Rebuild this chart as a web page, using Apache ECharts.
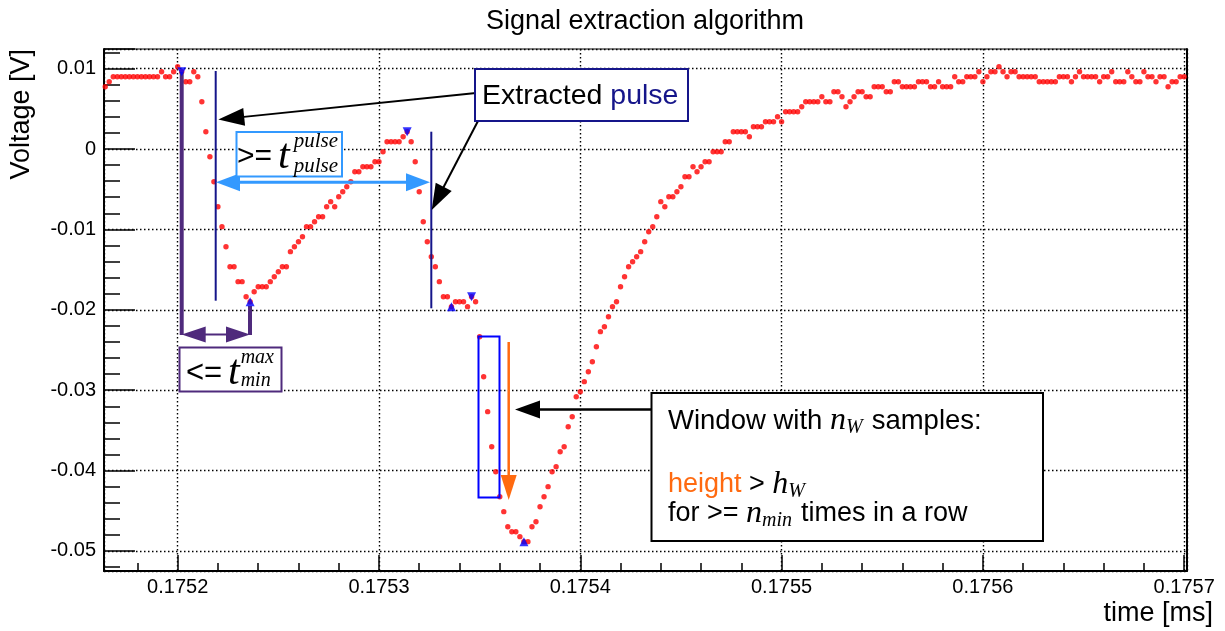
<!DOCTYPE html>
<html>
<head>
<meta charset="utf-8">
<title>Signal extraction algorithm</title>
<script src="https://cdn.jsdelivr.net/npm/echarts@6/dist/echarts.min.js"></script>
<style>
  html, body { margin: 0; padding: 0; background: #ffffff; }
  #main { width: 1225px; height: 631px; }
</style>
</head>
<body>
<div id="main"></div>
<script>
// Digitizer trace, one sample every 2 ns (time axis in ms)
const sampleStart = 0.175164;
const samplePeriod = 0.000002;
const voltage = [
  0.00775, 0.00837, 0.00899, 0.00899, 0.00899, 0.00899, 0.00899, 0.00899, 0.00899, 0.00899,
  0.00899, 0.00899, 0.00899, 0.00899, 0.00961, 0.00899, 0.00899, 0.00961, 0.01024, 0.00961,
  0.00837, 0.00837, 0.00961, 0.00899, 0.00588, 0.00215, -0.00096, -0.00407, -0.00718, -0.00966,
  -0.01215, -0.01464, -0.01464, -0.01650, -0.01650, -0.01837, -0.01899, -0.01775, -0.01713, -0.01713,
  -0.01713, -0.01650, -0.01588, -0.01526, -0.01464, -0.01464, -0.01277, -0.01215, -0.01153, -0.01091,
  -0.00966, -0.00966, -0.00904, -0.00842, -0.00842, -0.00718, -0.00655, -0.00718, -0.00593, -0.00531,
  -0.00469, -0.00407, -0.00282, -0.00282, -0.00220, -0.00220, -0.00220, -0.00158, -0.00158, -0.00034,
  0.00091, 0.00091, 0.00091, 0.00091, 0.00153, 0.00215, 0.00091, -0.00158, -0.00531, -0.00904,
  -0.01153, -0.01340, -0.01464, -0.01650, -0.01837, -0.01837, -0.01961, -0.01899, -0.01899, -0.01899,
  -0.01961, -0.01837, -0.01899, -0.02335, -0.02832, -0.03267, -0.03703, -0.04014, -0.04325, -0.04511,
  -0.04698, -0.04760, -0.04760, -0.04822, -0.04884, -0.04884, -0.04698, -0.04636, -0.04449, -0.04325,
  -0.04200, -0.04014, -0.03951, -0.03765, -0.03703, -0.03454, -0.03330, -0.03081, -0.03019, -0.02894,
  -0.02770, -0.02646, -0.02459, -0.02272, -0.02210, -0.02086, -0.01961, -0.01899, -0.01713, -0.01588,
  -0.01464, -0.01402, -0.01340, -0.01277, -0.01153, -0.01029, -0.00966, -0.00842, -0.00655, -0.00718,
  -0.00593, -0.00593, -0.00531, -0.00469, -0.00345, -0.00345, -0.00220, -0.00282, -0.00220, -0.00158,
  -0.00158, -0.00034, -0.00034, -0.00034, 0.00091, 0.00091, 0.00215, 0.00215, 0.00215, 0.00215,
  0.00153, 0.00277, 0.00277, 0.00277, 0.00340, 0.00340, 0.00340, 0.00402, 0.00340, 0.00464,
  0.00464, 0.00464, 0.00464, 0.00526, 0.00588, 0.00588, 0.00588, 0.00588, 0.00650, 0.00588,
  0.00588, 0.00713, 0.00713, 0.00650, 0.00526, 0.00588, 0.00650, 0.00713, 0.00713, 0.00650,
  0.00650, 0.00775, 0.00775, 0.00775, 0.00713, 0.00713, 0.00837, 0.00837, 0.00775, 0.00775,
  0.00775, 0.00775, 0.00837, 0.00837, 0.00837, 0.00775, 0.00775, 0.00837, 0.00775, 0.00775,
  0.00775, 0.00899, 0.00837, 0.00837, 0.00899, 0.00899, 0.00899, 0.00961, 0.00837, 0.00899,
  0.00961, 0.00961, 0.01024, 0.00961, 0.00899, 0.00961, 0.00961, 0.00899, 0.00899, 0.00899,
  0.00899, 0.00899, 0.00837, 0.00837, 0.00837, 0.00837, 0.00837, 0.00899, 0.00899, 0.00899,
  0.00837, 0.00899, 0.00961, 0.00899, 0.00899, 0.00899, 0.00899, 0.00837, 0.00899, 0.00899,
  0.00961, 0.00837, 0.00837, 0.00837, 0.00961, 0.00899, 0.00837, 0.00837, 0.00961, 0.00899,
  0.00899, 0.00837, 0.00899, 0.00899, 0.00775, 0.00837, 0.00837, 0.00899, 0.00899
];
// Sample indices flagged by the extraction (local maxima / minima)
const maxMarkerIdx = [19, 75, 91];
const minMarkerIdx = [36, 86, 104];
// Visible axis window
const timeRange = [0.1751634, 0.1757014];
const voltRange = [-0.05249, 0.01244];

const SANS = '"Liberation Sans", Arial, Helvetica, sans-serif';
const SERIF = '"Liberation Serif", "Times New Roman", Times, serif';

const points = voltage.map((v, i) => [sampleStart + i * samplePeriod, v]);
const maxPoints = maxMarkerIdx.map(i => points[i]);
const minPoints = minMarkerIdx.map(i => points[i]);

// ---------- annotation helpers (pixel space) ----------
const measureCtx = document.createElement('canvas').getContext('2d');
function fontStr(p) {
  return (p.italic ? 'italic ' : '') + p.size + 'px ' + (p.serif ? SERIF : SANS);
}
function textRun(x, yMid, pieces, z) {
  const els = [];
  let cx = x;
  for (const p of pieces) {
    const f = fontStr(p);
    const px = p.x !== undefined ? p.x : cx;
    els.push({
      type: 'text', z: z, silent: true,
      style: {
        x: px, y: yMid + (p.dy || 0), text: p.text, font: f, fill: p.color || '#000',
        align: 'left', verticalAlign: 'middle', textAlign: 'left', textVerticalAlign: 'middle'
      }
    });
    measureCtx.font = f;
    const w = measureCtx.measureText(p.text).width;
    if (!p.stack) cx = px + w + (p.gap || 0);
  }
  return els;
}
function seg(x1, y1, x2, y2, color, lw, z) {
  return { type: 'line', z: z, silent: true, shape: { x1, y1, x2, y2 }, style: { stroke: color, lineWidth: lw } };
}
function box(x1, y1, x2, y2, color, lw, z, fill) {
  return {
    type: 'rect', z: z, silent: true,
    shape: { x: x1, y: y1, width: x2 - x1, height: y2 - y1 },
    style: { stroke: color, lineWidth: lw, fill: fill || 'none' }
  };
}
function arrow(x1, y1, x2, y2, color, lw, len, half, both, z) {
  const dx = x2 - x1, dy = y2 - y1, L = Math.hypot(dx, dy);
  const ux = dx / L, uy = dy / L, nx = -uy, ny = ux;
  const head = (tx, ty, sx, sy) => ({
    type: 'polygon', z: z, silent: true,
    shape: { points: [[tx, ty],
      [tx - sx * len + nx * half, ty - sy * len + ny * half],
      [tx - sx * len - nx * half, ty - sy * len - ny * half]] },
    style: { fill: color }
  });
  const els = [seg(both ? x1 + ux * len * 0.8 : x1, both ? y1 + uy * len * 0.8 : y1,
                   x2 - ux * len * 0.8, y2 - uy * len * 0.8, color, lw, z)];
  els.push(head(x2, y2, ux, uy));
  if (both) els.push(head(x1, y1, -ux, -uy));
  return els;
}

const PURPLE = '#4f2a7c';
const NAVY = '#15158a';
const SKY = '#3399ff';
const ORANGE = '#ff6a10';

const graphics = [].concat(
  // minimum-search window (purple)
  seg(181.7, 72, 181.7, 335, PURPLE, 4, 3),
  seg(250, 306, 250, 335, PURPLE, 4, 3),
  arrow(181.7, 334.5, 250, 334.5, PURPLE, 2, 24, 8, true, 3),
  box(179.5, 347.5, 281.5, 391.5, PURPLE, 2, 4, '#fff'),
  textRun(186, 373, [
    { text: '<=', size: 31 },
    { text: 't', size: 42, italic: true, serif: true, x: 228, gap: 1 },
    { text: 'max', size: 20, italic: true, serif: true, stack: true, dy: -15 },
    { text: 'min', size: 20, italic: true, serif: true, dy: 8 }
  ], 5),
  // pulse borders (navy) and minimum pulse length (sky blue)
  seg(215.7, 71, 215.7, 300.7, NAVY, 2, 3),
  seg(431.3, 131.7, 431.3, 308.3, NAVY, 2, 3),
  arrow(216, 182.3, 430, 182.3, SKY, 3, 24, 9, true, 3),
  box(236.5, 132, 342, 176.5, SKY, 2, 4, '#fff'),
  textRun(237, 157, [
    { text: '>=', size: 30 },
    { text: 't', size: 42, italic: true, serif: true, x: 278, gap: 4 },
    { text: 'pulse', size: 21, italic: true, serif: true, stack: true, dy: -16 },
    { text: 'pulse', size: 21, italic: true, serif: true, dy: 9 }
  ], 5),
  // "Extracted pulse" label with its two pointers
  arrow(476, 93, 218.3, 119.5, '#000', 2, 26, 9, false, 3),
  arrow(478, 121, 431.7, 210, '#000', 2, 26, 9, false, 3),
  box(475, 69, 688, 121, NAVY, 2, 4, '#fff'),
  textRun(482, 96, [
    { text: 'Extracted ', size: 28.5 },
    { text: 'pulse', size: 28.5, color: NAVY }
  ], 5),
  // sliding window (blue) and required height (orange)
  box(478.5, 336.5, 499.5, 497.5, '#0000ff', 2, 3),
  arrow(508.7, 342, 508.7, 500, ORANGE, 2.5, 25, 8, false, 3),
  arrow(652, 409.5, 515, 409.5, '#000', 2.5, 25, 9, false, 3),
  box(651.5, 393, 1043, 541, '#000', 2, 4, '#fff'),
  textRun(668, 421, [
    { text: 'Window with ', size: 27.5 },
    { text: 'n', size: 32, italic: true, serif: true },
    { text: 'W', size: 20, italic: true, serif: true, dy: 7, gap: 9 },
    { text: 'samples:', size: 27.5 }
  ], 5),
  textRun(668, 485, [
    { text: 'height', size: 27, color: ORANGE },
    { text: ' > ', size: 27 },
    { text: 'h', size: 32, italic: true, serif: true },
    { text: 'W', size: 20, italic: true, serif: true, dy: 7 }
  ], 5),
  textRun(668, 514, [
    { text: 'for >= ', size: 27 },
    { text: 'n', size: 32, italic: true, serif: true },
    { text: 'min', size: 20, italic: true, serif: true, dy: 7, gap: 9 },
    { text: 'times in a row', size: 27 }
  ], 5),
  // axis titles
  [{
    type: 'text', x: 22, y: 49, rotation: Math.PI / 2, silent: true, z: 5,
    style: { text: 'Voltage [V]', font: '27px ' + SANS, fill: '#000', align: 'right', verticalAlign: 'middle',
             textAlign: 'right', textVerticalAlign: 'middle' }
  }, {
    type: 'text', x: 1213, y: 614, silent: true, z: 5,
    style: { text: 'time [ms]', font: '27px ' + SANS, fill: '#000', align: 'right', verticalAlign: 'middle',
             textAlign: 'right', textVerticalAlign: 'middle' }
  }]
);

function timeLabel(v) {
  const r = Math.round(v / 0.0001) * 0.0001;
  return Math.abs(v - r) < 1e-9 ? r.toFixed(4) : '';
}
function voltLabel(v) {
  const r = Math.round(v * 100) / 100;
  if (Math.abs(v - r) > 1e-7) return '';
  return r === 0 ? '0' : String(r);
}

const dotted = { color: '#000', width: 1.4, type: [1.5, 2.5] };

const option = {
  animation: false,
  backgroundColor: '#ffffff',
  title: {
    text: 'Signal extraction algorithm',
    left: 640, top: 3, textAlign: 'center',
    textStyle: { fontFamily: SANS, fontSize: 27, fontWeight: 'normal', color: '#000' }
  },
  grid: { left: 104, right: 38, top: 49, bottom: 60, show: true, borderColor: '#000', borderWidth: 1, backgroundColor: '#fff' },
  xAxis: {
    type: 'value', min: timeRange[0], max: timeRange[1], splitNumber: 5,
    axisLine: { show: true, onZero: false, lineStyle: { color: '#000', width: 2 } },
    axisTick: { show: true, inside: true, length: 16, lineStyle: { color: '#000', width: 1.5 } },
    minorTick: { show: true, splitNumber: 5, length: 8, lineStyle: { color: '#000', width: 1.5 } },
    axisLabel: { formatter: timeLabel, margin: 6, fontFamily: SANS, fontSize: 20, color: '#000', showMinLabel: true, showMaxLabel: true, hideOverlap: false },
    splitLine: { show: true, lineStyle: dotted }
  },
  yAxis: [{
    type: 'value', min: voltRange[0], max: voltRange[1], splitNumber: 6,
    axisLine: { show: true, onZero: false, lineStyle: { color: '#000', width: 2 } },
    axisTick: { show: true, inside: true, length: 31, lineStyle: { color: '#000', width: 1.5 } },
    minorTick: { show: true, splitNumber: 5, length: 16, lineStyle: { color: '#000', width: 1.5 } },
    axisLabel: { formatter: voltLabel, margin: 8, fontFamily: SANS, fontSize: 20, color: '#000', showMinLabel: true, showMaxLabel: true, hideOverlap: false },
    splitLine: { show: true, lineStyle: dotted }
  }, {
    type: 'value', position: 'right', min: voltRange[0], max: voltRange[1],
    axisLine: { show: true, onZero: false, lineStyle: { color: '#000', width: 2 } },
    axisTick: { show: false }, axisLabel: { show: false }, splitLine: { show: false }
  }],
  series: [{
    name: 'samples', type: 'scatter', data: points, symbol: 'circle', symbolSize: 5.4,
    itemStyle: { color: '#ff0000' }, silent: true, z: 2
  }, {
    name: 'maxima', type: 'scatter', data: maxPoints, symbol: 'triangle', symbolRotate: 180, symbolSize: [9, 9],
    itemStyle: { color: '#0000ff' }, silent: true, z: 6
  }, {
    name: 'minima', type: 'scatter', data: minPoints, symbol: 'triangle', symbolSize: [9, 9],
    itemStyle: { color: '#0000ff' }, silent: true, z: 6
  }],
  graphic: { elements: graphics }
};

const chart = echarts.init(document.getElementById('main'), null, { renderer: 'canvas' });
chart.setOption(option);
</script>
</body>
</html>
